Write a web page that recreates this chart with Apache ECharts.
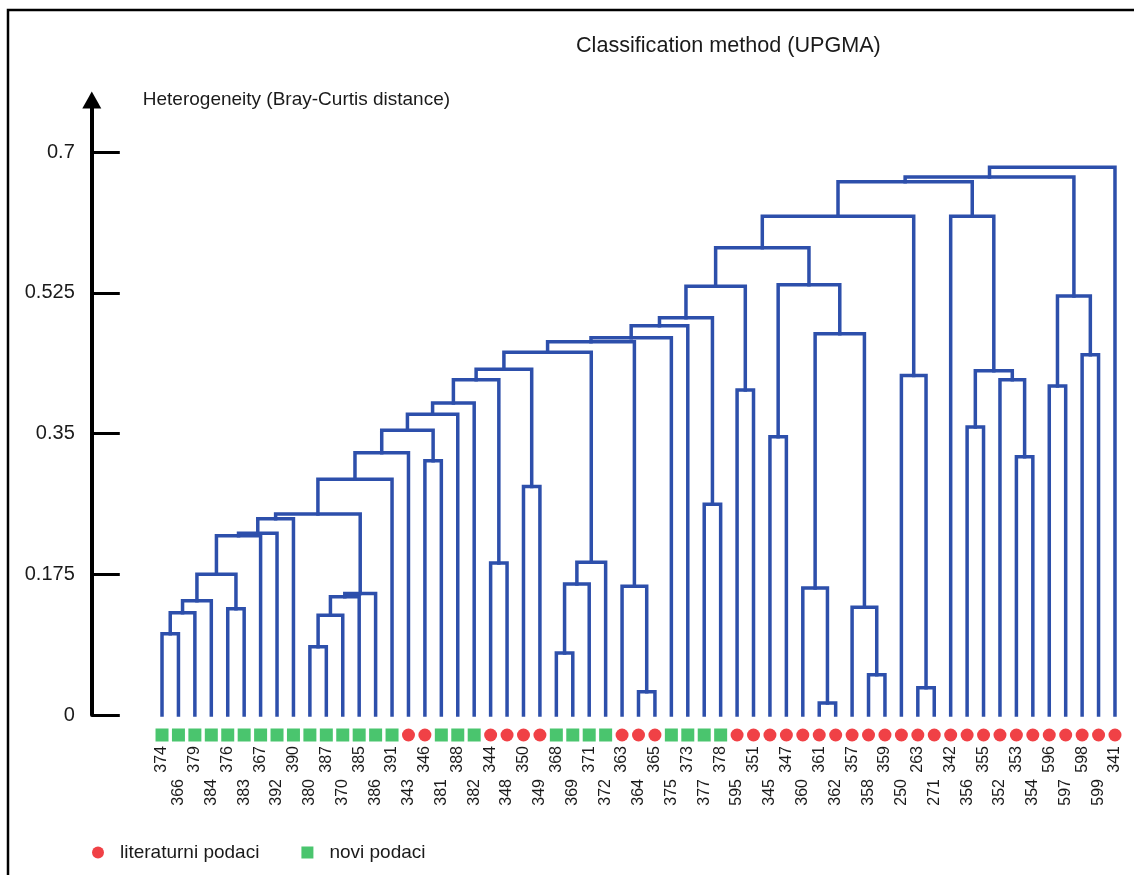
<!DOCTYPE html>
<html>
<head>
<meta charset="utf-8">
<title>Classification method (UPGMA)</title>
<script src="https://cdn.jsdelivr.net/npm/echarts@6/dist/echarts.min.js"></script>
<style>
  html, body { margin: 0; padding: 0; background: #fff; }
  #chart { width: 1134px; height: 875px; }
</style>
</head>
<body>
<div id="chart"></div>
<script>
// leaves in dendrogram order (left -> right)
const leafLabels = [
  '374', '366', '379', '384', '376', '383', '367', '392', '390', '380',
  '387', '370', '385', '386', '391', '343', '346', '381', '388', '382',
  '344', '348', '350', '349', '368', '369', '371', '372', '363', '364',
  '365', '375', '373', '377', '378', '595', '351', '345', '347', '360',
  '361', '362', '357', '358', '359', '250', '263', '271', '342', '356',
  '355', '352', '353', '354', '596', '597', '598', '599', '341'
]
// L = literaturni podaci, N = novi podaci
const leafSource = [
  'N', 'N', 'N', 'N', 'N', 'N', 'N', 'N', 'N', 'N',
  'N', 'N', 'N', 'N', 'N', 'L', 'L', 'N', 'N', 'N',
  'L', 'L', 'L', 'L', 'N', 'N', 'N', 'N', 'L', 'L',
  'L', 'N', 'N', 'N', 'N', 'L', 'L', 'L', 'L', 'L',
  'L', 'L', 'L', 'L', 'L', 'L', 'L', 'L', 'L', 'L',
  'L', 'L', 'L', 'L', 'L', 'L', 'L', 'L', 'L'
]
// merges bottom-up: [node, left child, right child, Bray-Curtis distance]
const merges = [
  ['A', '374', '366', 0.101],
  ['B', 'A', '379', 0.127],
  ['C', 'B', '384', 0.142],
  ['D', '376', '383', 0.132],
  ['E', 'C', 'D', 0.175],
  ['F', 'E', '367', 0.223],
  ['G', 'F', '392', 0.226],
  ['H', 'G', '390', 0.244],
  ['K', '380', '387', 0.085],
  ['L', 'K', '370', 0.124],
  ['M', 'L', '385', 0.147],
  ['N', 'M', '386', 0.151],
  ['I', 'H', 'N', 0.250],
  ['O', 'I', '391', 0.293],
  ['P', 'O', '343', 0.326],
  ['Q', '346', '381', 0.316],
  ['R', 'P', 'Q', 0.354],
  ['S', 'R', '388', 0.374],
  ['T', 'S', '382', 0.388],
  ['U', '344', '348', 0.189],
  ['V', 'T', 'U', 0.417],
  ['W', '350', '349', 0.284],
  ['X', 'V', 'W', 0.430],
  ['Y1', '368', '369', 0.077],
  ['Y2', 'Y1', '371', 0.163],
  ['Y3', 'Y2', '372', 0.190],
  ['Z', 'X', 'Y3', 0.451],
  ['AA1', '364', '365', 0.029],
  ['AA2', '363', 'AA1', 0.160],
  ['AB', 'Z', 'AA2', 0.464],
  ['AC', 'AB', '375', 0.469],
  ['AD', 'AC', '373', 0.484],
  ['AE1', '377', '378', 0.262],
  ['AE', 'AD', 'AE1', 0.494],
  ['AF1', '595', '351', 0.404],
  ['AF', 'AE', 'AF1', 0.533],
  ['AG1', '345', '347', 0.346],
  ['AH1', '361', '362', 0.015],
  ['AH2', '360', 'AH1', 0.158],
  ['AI1', '358', '359', 0.050],
  ['AI2', '357', 'AI1', 0.134],
  ['AJ', 'AH2', 'AI2', 0.474],
  ['AK', 'AG1', 'AJ', 0.535],
  ['AL', 'AF', 'AK', 0.581],
  ['AM1', '263', '271', 0.034],
  ['AM2', '250', 'AM1', 0.422],
  ['AN', 'AL', 'AM2', 0.620],
  ['AO1', '356', '355', 0.358],
  ['AO2', '353', '354', 0.321],
  ['AO3', '352', 'AO2', 0.417],
  ['AO4', 'AO1', 'AO3', 0.428],
  ['AP', '342', 'AO4', 0.620],
  ['AQ1', '596', '597', 0.409],
  ['AQ2', '598', '599', 0.448],
  ['AQ', 'AQ1', 'AQ2', 0.521],
  ['AS', 'AN', 'AP', 0.663],
  ['AR', 'AS', 'AQ', 0.669],
  ['ROOT', 'AR', '341', 0.681]
]
const yTicks = [0, 0.175, 0.35, 0.525, 0.7]

const FONT = '"Liberation Sans", Arial, sans-serif'
const LINK_COLOR = '#2d4fab'
const RED = '#ec1218'
const GREEN = '#1db64a'

// x position of each node = mean of its children, leaves at their index
const pos = {}
const ht = {}
leafLabels.forEach((l, i) => { pos[l] = i; ht[l] = 0 })
const linkData = merges.map(([id, a, b, h]) => {
  pos[id] = (pos[a] + pos[b]) / 2
  ht[id] = h
  return [pos[a], pos[b], h, ht[a], ht[b]]
})

const litData = []
const noviData = []
leafLabels.forEach((l, i) => {
  if (leafSource[i] === 'L') litData.push([l, 0])
  else noviData.push([l, 0])
})

const chart = echarts.init(document.getElementById('chart'))
const gridLeft = 153.8
const gridRight = 10.8

const labelBase = {
  rotate: 90,
  fontSize: 16,
  fontFamily: FONT,
  color: '#1a1a1a'
}

chart.setOption({
  animation: false,
  backgroundColor: '#fff',
  textStyle: { fontFamily: FONT },
  title: {
    text: 'Classification method (UPGMA)',
    left: 576,
    top: 35,
    padding: 0,
    textStyle: { fontSize: 21.6, fontWeight: 'normal', color: '#1a1a1a', fontFamily: FONT }
  },
  legend: {
    left: 92,
    top: 843,
    padding: 0,
    itemWidth: 12,
    itemHeight: 12,
    itemGap: 42,
    selectedMode: false,
    textStyle: { fontSize: 19, color: '#1a1a1a', fontFamily: FONT, padding: [0, 0, 0, 11] },
    data: [
      { name: 'literaturni podaci', icon: 'circle' },
      { name: 'novi podaci', icon: 'rect' }
    ]
  },
  graphic: [{
    type: 'rect',
    shape: { x: 8, y: 10, width: 1140, height: 880 },
    style: { fill: null, stroke: '#000', lineWidth: 2.5 },
    silent: true
  }],
  grid: [
    { left: gridLeft, right: gridRight, top: 100, bottom: 875 - 715 },
    { left: gridLeft, right: gridRight, top: 727, height: 16 }
  ],
  xAxis: [
    { type: 'value', gridIndex: 0, min: -0.5, max: leafLabels.length - 0.5, show: false },
    {
      type: 'category', gridIndex: 1, position: 'bottom', data: leafLabels,
      axisLine: { show: false }, axisTick: { show: false },
      axisLabel: Object.assign({}, labelBase, { interval: (i) => i % 2 === 0, margin: 3 })
    },
    {
      type: 'category', gridIndex: 1, position: 'bottom', data: leafLabels,
      axisLine: { show: false }, axisTick: { show: false },
      axisLabel: Object.assign({}, labelBase, { interval: (i) => i % 2 === 1, margin: 36 })
    }
  ],
  yAxis: [
    {
      type: 'value', gridIndex: 0, min: 0, max: 0.7647, offset: 62,
      name: 'Heterogeneity (Bray-Curtis distance)',
      nameLocation: 'end',
      nameGap: 0,
      nameTextStyle: {
        fontSize: 19, color: '#1a1a1a', fontFamily: FONT,
        align: 'left', verticalAlign: 'middle', padding: [0, 0, 0, 51]
      },
      axisLine: {
        show: true,
        onZero: false,
        lineStyle: { color: '#000', width: 4 },
        symbol: ['none', 'triangle'],
        symbolSize: [19, 17]
      },
      axisTick: {
        show: true, inside: true, length: 28,
        customValues: yTicks,
        lineStyle: { color: '#000', width: 3 }
      },
      axisLabel: {
        customValues: yTicks,
        formatter: (v) => String(v),
        margin: 17,
        fontSize: 20,
        fontFamily: FONT,
        color: '#1a1a1a'
      },
      splitLine: { show: false }
    },
    { type: 'value', gridIndex: 1, min: -1, max: 1, show: false }
  ],
  series: [
    {
      type: 'custom',
      name: 'links',
      xAxisIndex: 0,
      yAxisIndex: 0,
      data: linkData,
      encode: { x: [0, 1], y: [2, 3, 4] },
      renderItem: (params, api) => {
        const xl = api.value(0)
        const xr = api.value(1)
        const h = api.value(2)
        const pts = [
          api.coord([xl, api.value(3)]),
          api.coord([xl, h]),
          api.coord([xr, h]),
          api.coord([xr, api.value(4)])
        ]
        return {
          type: 'polyline',
          shape: { points: pts },
          style: { stroke: LINK_COLOR, lineWidth: 3.5, fill: null, lineJoin: 'miter', lineCap: 'square' }
        }
      }
    },
    {
      type: 'scatter',
      name: 'literaturni podaci',
      xAxisIndex: 1,
      yAxisIndex: 1,
      symbol: 'circle',
      symbolSize: 13,
      itemStyle: { color: RED },
      data: litData
    },
    {
      type: 'scatter',
      name: 'novi podaci',
      xAxisIndex: 1,
      yAxisIndex: 1,
      symbol: 'rect',
      symbolSize: 13,
      itemStyle: { color: GREEN },
      data: noviData
    }
  ]
})
</script>
</body>
</html>
